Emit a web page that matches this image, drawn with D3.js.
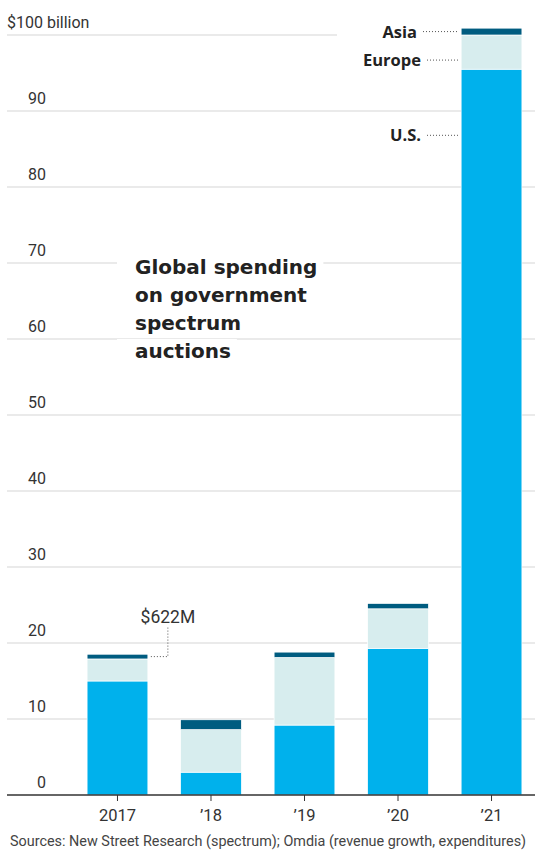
<!DOCTYPE html>
<html>
<head>
<meta charset="utf-8">
<script src="https://cdn.jsdelivr.net/npm/d3@7"></script>
<style>
  body { margin: 0; background: #fff; }
  svg text { font-family: Roboto, "Noto Sans", sans-serif; }
</style>
</head>
<body>
<div id="chart"></div>
<script>
// data (billions of dollars)
const years = ['2017', '’18', '’19', '’20', '’21'];
const us = [15.0, 3.0, 9.2, 19.3, 95.5];
const europe = [2.9, 5.6, 8.9, 5.2, 4.5];
const asia = [0.622, 1.3, 0.7, 0.7, 0.9];
const yTicks = [0, 10, 20, 30, 40, 50, 60, 70, 80, 90, 100];
const regions = ['U.S.', 'Europe', 'Asia'];
const colors = ['#00b1ec', '#d7edee', '#005c80'];
// where the region labels point on the '21 bar (billions)
const labelAt = [86.8, 96.7, 100.45];

const width = 535, height = 853;
const svg = d3.select('#chart').append('svg')
    .attr('width', width)
    .attr('height', height);

const x = d3.scaleBand()
    .domain(years)
    .range([74, 535])
    .paddingInner(0.35)
    .paddingOuter(0.14);

const y = d3.scaleLinear()
    .domain([0, 100])
    .range([795, 35]);

// gridlines
const grid = svg.append('g');
grid.selectAll('line')
    .data(yTicks.filter(d => d > 0))
    .enter().append('line')
    .attr('x1', 7)
    .attr('x2', d => d === 100 ? 337 : width)
    .attr('y1', d => y(d))
    .attr('y2', d => y(d))
    .attr('stroke', '#e3e3e3')
    .attr('stroke-width', 1.5);

// tick labels
svg.append('g').selectAll('text')
    .data(yTicks)
    .enter().append('text')
    .attr('x', d => d === 100 ? 7 : 46)
    .attr('y', d => y(d) - 7)
    .attr('text-anchor', d => d === 100 ? 'start' : 'end')
    .style('font-size', '16px')
    .style('fill', '#333')
    .text(d => d === 100 ? '$100 billion' : d);

// title with white boxes to cut gridlines
const titleLines = ['Global spending', 'on government', 'spectrum', 'auctions'];
const title = svg.append('g');
titleLines.forEach((t, i) => {
    const txt = title.append('text')
        .attr('x', 135)
        .attr('y', 274 + i * 28)
        .style('font-size', '20px')
        .style('font-weight', 'bold')
        .style('font-family', '"DejaVu Sans", sans-serif')
        .style('fill', '#222')
        .text(t);
    const bb = txt.node().getBBox();
    title.insert('rect', 'text')
        .attr('x', bb.x - 18)
        .attr('y', bb.y)
        .attr('width', bb.width + 24)
        .attr('height', bb.height)
        .attr('fill', '#fff');
});

// stacked bars
const table = years.map((yr, i) => ({ year: yr, 'U.S.': us[i], 'Europe': europe[i], 'Asia': asia[i] }));
const series = d3.stack().keys(regions)(table);

svg.append('g').selectAll('g')
    .data(series)
    .enter().append('g')
    .attr('fill', (d, i) => colors[i])
    .selectAll('rect')
    .data(d => d)
    .enter().append('rect')
    .attr('x', d => x(d.data.year))
    .attr('width', x.bandwidth())
    .attr('y', d => y(d[1]))
    .attr('height', d => y(d[0]) - y(d[1]))
    .attr('stroke', '#fff')
    .attr('stroke-width', 0.7);

// x axis
const xAxis = svg.append('g')
    .attr('transform', `translate(0,${y(0)})`)
    .call(d3.axisBottom(x).tickSize(6).tickSizeOuter(0));
xAxis.select('.domain').remove();
xAxis.insert('line', ':first-child')
    .attr('x1', 7).attr('x2', width)
    .attr('stroke', '#333').attr('stroke-width', 1.5);
xAxis.selectAll('.tick line').attr('stroke', '#333');
xAxis.selectAll('.tick text')
    .attr('dy', '1.05em')
    .style('font-size', '16.5px')
    .style('font-family', 'Roboto, sans-serif')
    .style('fill', '#333');

// region labels on the '21 bar
const lastX = x(years[years.length - 1]);
regions.forEach((r, i) => {
    const yy = y(labelAt[i]);
    const endX = i === 2 ? 417 : 421;
    svg.append('text')
        .attr('x', endX)
        .attr('y', yy + 6)
        .attr('text-anchor', 'end')
        .style('font-size', '16.5px')
        .style('font-weight', 'bold')
        .style('font-family', '"Open Sans", sans-serif')
        .style('fill', '#222')
        .text(r);
    svg.append('line')
        .attr('x1', endX + 6).attr('x2', lastX - 3)
        .attr('y1', yy).attr('y2', yy)
        .attr('stroke', '#555')
        .attr('stroke-width', 1)
        .attr('stroke-dasharray', '1,2');
});

// $622M annotation
const asiaMid = (series[2][0][0] + series[2][0][1]) / 2;
const ax = x(years[0]) + x.bandwidth();
svg.append('path')
    .attr('d', `M${ax + 3},${y(asiaMid)} H${ax + 20} V${y(asiaMid) - 29}`)
    .attr('fill', 'none')
    .attr('stroke', '#555')
    .attr('stroke-width', 1)
    .attr('stroke-dasharray', '1,2');
svg.append('text')
    .attr('x', ax + 20)
    .attr('y', y(asiaMid) - 34)
    .attr('text-anchor', 'middle')
    .style('font-size', '17.5px')
    .style('fill', '#333')
    .text('$622M');

// source
svg.append('text')
    .attr('x', 10)
    .attr('y', 846)
    .style('font-size', '14.4px')
    .style('fill', '#444')
    .text('Sources: New Street Research (spectrum); Omdia (revenue growth, expenditures)');
</script>
</body>
</html>
